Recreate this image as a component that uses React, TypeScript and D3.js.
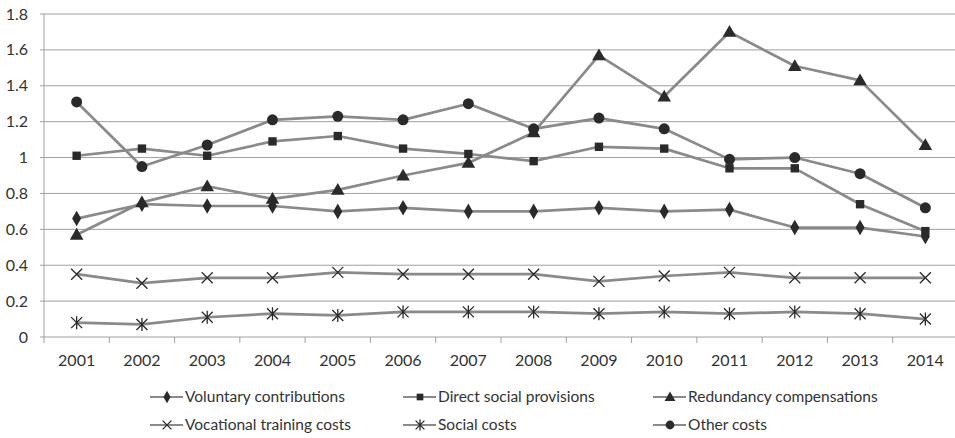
import { scaleBand, scaleLinear, line as d3Line, symbol, symbolDiamond, symbolSquare, symbolTriangle, symbolCircle } from "d3";

const years = ["2001", "2002", "2003", "2004", "2005", "2006", "2007", "2008", "2009", "2010", "2011", "2012", "2013", "2014"];
const yTicks = [0, 0.2, 0.4, 0.6, 0.8, 1, 1.2, 1.4, 1.6, 1.8];

const voluntary = [0.66, 0.74, 0.73, 0.73, 0.7, 0.72, 0.7, 0.7, 0.72, 0.7, 0.71, 0.61, 0.61, 0.56];
const directSocial = [1.01, 1.05, 1.01, 1.09, 1.12, 1.05, 1.02, 0.98, 1.06, 1.05, 0.94, 0.94, 0.74, 0.59];
const redundancy = [0.57, 0.75, 0.84, 0.77, 0.82, 0.9, 0.97, 1.14, 1.57, 1.34, 1.7, 1.51, 1.43, 1.07];
const vocational = [0.35, 0.3, 0.33, 0.33, 0.36, 0.35, 0.35, 0.35, 0.31, 0.34, 0.36, 0.33, 0.33, 0.33];
const socialCosts = [0.08, 0.07, 0.11, 0.13, 0.12, 0.14, 0.14, 0.14, 0.13, 0.14, 0.13, 0.14, 0.13, 0.1];
const otherCosts = [1.31, 0.95, 1.07, 1.21, 1.23, 1.21, 1.3, 1.16, 1.22, 1.16, 0.99, 1.0, 0.91, 0.72];

const series = [
  { name: "Voluntary contributions", values: voluntary, marker: "diamond" },
  { name: "Direct social provisions", values: directSocial, marker: "square" },
  { name: "Redundancy compensations", values: redundancy, marker: "triangle" },
  { name: "Vocational training costs", values: vocational, marker: "x" },
  { name: "Social costs", values: socialCosts, marker: "star" },
  { name: "Other costs", values: otherCosts, marker: "circle" },
];

const W = 955;
const H = 438;
const LINE = "#8a8a8a";
const MARK = "#2a2a2a";
const GRID = "#a0a0a0";
const FONT = "Lato, 'Open Sans', sans-serif";

function Marker({ kind, x, y, scale = 1 }: { kind: string; x: number; y: number; scale?: number }) {
  if (kind === "x" || kind === "star") {
    const s = 5.5 * scale;
    let d = `M${x - s},${y - s}L${x + s},${y + s}M${x - s},${y + s}L${x + s},${y - s}`;
    if (kind === "star") d += `M${x},${y - s - 1}L${x},${y + s + 1}`;
    return <path d={d} stroke={MARK} strokeWidth={1.3} fill="none" />;
  }
  const types: any = { diamond: symbolDiamond, square: symbolSquare, triangle: symbolTriangle, circle: symbolCircle };
  const sizes: any = { diamond: 70, square: 70, triangle: 80, circle: 95 };
  const d = symbol(types[kind], sizes[kind] * scale * scale)() as string;
  const dy = kind === "triangle" ? 1 * scale : 0;
  return <path d={d} transform={`translate(${x},${y + dy})`} fill={MARK} />;
}

export default function App() {
  const left = 44;
  const right = 958;
  const x = scaleBand().domain(years).range([left, right]);
  const y = scaleLinear().domain([0, 1.8]).range([337, 14]);
  const cx = (yr: string) => (x(yr) as number) + x.bandwidth() / 2;

  const lineGen = d3Line<number>()
    .x((_, i) => cx(years[i]))
    .y((d) => y(d));

  const legendCols = [150, 403, 653];
  const legendRows = [397, 425];

  return (
    <svg width={W} height={H} style={{ position: "absolute", left: 0, top: 0 }} fontFamily={FONT}>
      <rect width={W} height={H} fill="#fff" />
      {yTicks.map((t) => (
        <g key={t}>
          <line x1={left - 4} x2={W} y1={y(t)} y2={y(t)} stroke={GRID} strokeWidth={1} />
          <text x={28} y={y(t)} dy="0.35em" textAnchor="end" fontSize={16} fill="#333">
            {t === 0 ? "0" : t === 1 ? "1" : t.toFixed(1)}
          </text>
        </g>
      ))}
      <line x1={left} x2={left} y1={y(1.8)} y2={y(0) + 6} stroke={GRID} strokeWidth={1} />
      {years.map((yr) => (
        <g key={yr}>
          <line x1={(x(yr) as number) + x.bandwidth()} x2={(x(yr) as number) + x.bandwidth()} y1={y(0)} y2={y(0) + 6} stroke={GRID} />
          <text x={cx(yr)} y={360} dy="0.35em" textAnchor="middle" fontSize={16} fill="#333">
            {yr}
          </text>
        </g>
      ))}
      {series.map((s) => (
        <path key={s.name} d={lineGen(s.values) as string} fill="none" stroke={LINE} strokeWidth={2.7} strokeLinejoin="round" />
      ))}
      {series.map((s) => (
        <g key={s.name + "m"}>
          {s.values.map((v, i) => (
            <Marker key={i} kind={s.marker} x={cx(years[i])} y={y(v)} />
          ))}
        </g>
      ))}
      {series.map((s, i) => {
        const lx = legendCols[i % 3];
        const ly = legendRows[Math.floor(i / 3)];
        return (
          <g key={s.name + "l"}>
            <line x1={lx} x2={lx + 33} y1={ly} y2={ly} stroke={LINE} strokeWidth={2} />
            <Marker kind={s.marker} x={lx + 17} y={ly} scale={0.8} />
            <text x={lx + 35} y={ly} dy="0.35em" fontSize={15.5} fill="#333">
              {s.name}
            </text>
          </g>
        );
      })}
    </svg>
  );
}
